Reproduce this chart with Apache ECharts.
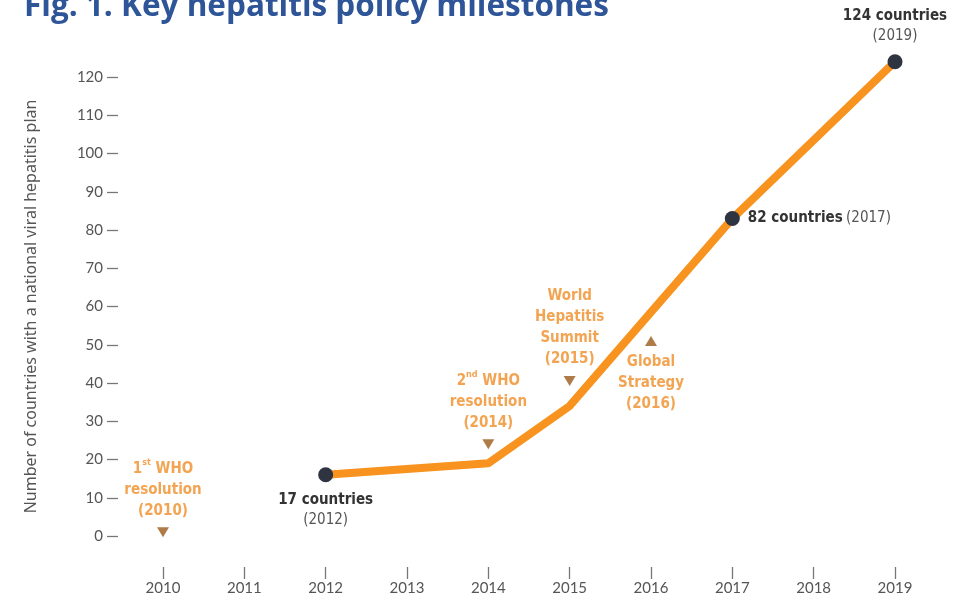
<!DOCTYPE html>
<html><head><meta charset="utf-8">
<script src="https://cdn.jsdelivr.net/npm/echarts@6/dist/echarts.min.js"></script>
<style>html,body{margin:0;padding:0;background:#fff}#c{width:961px;height:601px}</style>
</head><body><div id="c"></div>
<script>
var years = ['2010','2011','2012','2013','2014','2015','2016','2017','2018','2019'];
var countries = [null, null, 16, 17.5, 19, 34, 58.5, 83, 103.5, 124];
var pointYears = ['2012','2017','2019'];
var pointLabels = ['{b|17 countries}\n{r|(2012)}', '{b|82 countries} {r|(2017)}', '{b|124 countries}\n{r|(2019)}'];
var pointLabelPos = ['bottom','right','top'];
var milestoneYears = ['2010','2014','2015','2016'];
var milestoneValues = [1, 24, 40.5, 51];
var milestoneUp = [false, false, false, true];
var milestoneLabels = [
  '{o|1}{s|st}{o| WHO}\n{o|resolution}\n{o|(2010)}',
  '{o|2}{s|nd}{o| WHO}\n{o|resolution}\n{o|(2014)}',
  '{o|World}\n{o|Hepatitis}\n{o|Summit}\n{o|(2015)}',
  '{o|Global}\n{o|Strategy}\n{o|(2016)}'
];
var yTicks = [0,10,20,30,40,50,60,70,80,90,100,110,120];

var condensed = '"Liberation Sans Narrow","DejaVu Sans Condensed","Roboto Condensed",sans-serif';
var orange = '#ef8d27';
var brown = '#9a5a1c';

var lineData = countries.map(function(v, i){
  var k = pointYears.indexOf(years[i]);
  if (k < 0) return {value: v, symbolSize: 0};
  return {value: v, symbol: 'circle', symbolSize: 15,
    itemStyle: {color: '#2e3440'},
    label: {show: true, position: pointLabelPos[k], distance: 8, formatter: pointLabels[k],
      rich: {
        b: {fontFamily: condensed, fontWeight: 'bold', fontSize: 15, color: '#333', lineHeight: 20},
        r: {fontFamily: condensed, fontSize: 15, color: '#555', lineHeight: 20}
      }}};
});

var msData = milestoneYears.map(function(y, i){
  return {value: [y, milestoneValues[i]], symbolRotate: milestoneUp[i] ? 0 : 180,
    label: {show: true, position: milestoneUp[i] ? 'bottom' : 'top', distance: 6, formatter: milestoneLabels[i],
      rich: {
        o: {fontFamily: condensed, fontWeight: 'bold', fontSize: 15, color: orange, lineHeight: 21},
        s: {fontFamily: condensed, fontWeight: 'bold', fontSize: 9, color: orange, verticalAlign: 'top', lineHeight: 21}
      }}};
});

var chart = echarts.init(document.getElementById('c'), null, {renderer: 'canvas'});
chart.setOption({
  animation: false,
  backgroundColor: '#fff',
  graphic: [{type: 'text', left: 24, top: -9, style: {text: 'Fig. 1. Key hepatitis policy milestones',
    font: 'bold 31.5px "Open Sans", sans-serif', fill: '#2e5597'}}],
  grid: [
    {left: 163, right: 66, top: 77, bottom: 65, containLabel: false},
    {left: 163, right: 66, top: 566, bottom: 34, containLabel: false}
  ],
  xAxis: [
    {type: 'category', data: years, boundaryGap: false, gridIndex: 0, show: false},
    {type: 'category', data: years, boundaryGap: false, gridIndex: 1,
      axisLine: {show: false, onZero: false},
      axisTick: {show: true, length: 12, lineStyle: {color: '#777', width: 1.3}},
      axisLabel: {color: '#555', fontSize: 15, fontFamily: 'Lato, sans-serif', margin: 14},
      splitLine: {show: false}}
  ],
  yAxis: [
    {type: 'value', min: 0, max: 120, interval: 10, offset: 45, gridIndex: 0,
      name: 'Number of countries with a national viral hepatitis plan', nameLocation: 'middle', nameGap: 79,
      nameTextStyle: {color: '#555', fontSize: 16, fontFamily: '"Noto Sans", sans-serif'},
      axisLine: {show: false, onZero: false},
      axisTick: {show: true, length: 11, lineStyle: {color: '#777', width: 1.3}},
      axisLabel: {color: '#555', fontSize: 15, fontFamily: 'Lato, sans-serif', margin: 15,
        formatter: function(v){ return yTicks.indexOf(v) >= 0 ? String(v) : ''; }},
      splitLine: {show: false}},
    {type: 'value', gridIndex: 1, show: false}
  ],
  series: [
    {type: 'line', data: lineData, clip: false, connectNulls: false,
      lineStyle: {color: '#f7931e', width: 8}, itemStyle: {color: '#f7931e'}, z: 2},
    {type: 'scatter', data: msData, symbol: 'triangle', symbolSize: [12, 10],
      itemStyle: {color: brown}, z: 3}
  ]
});
</script></body></html>
